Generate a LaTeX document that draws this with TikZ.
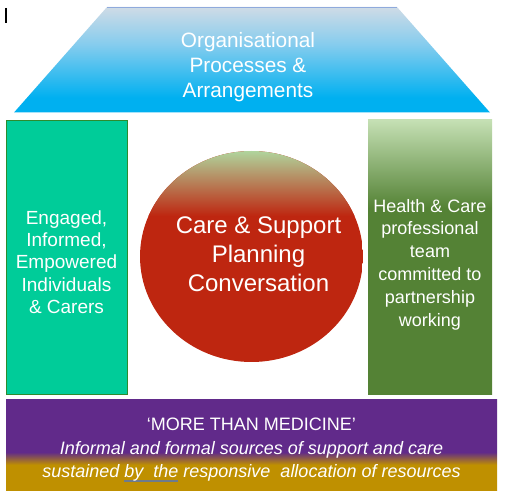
\documentclass[tikz,border=0pt]{standalone}
\usepackage{fontspec}
\setmainfont{Liberation Sans}
\usepackage{tikz}
\usetikzlibrary{shapes.geometric}

\definecolor{orgtop}{HTML}{CFDBE6}
\definecolor{orgmid}{HTML}{84CCEE}
\definecolor{orgblue}{HTML}{00B0F0}
\definecolor{orgedge}{HTML}{8FAADC}
\definecolor{carergreen}{HTML}{00CC99}
\definecolor{careredge}{HTML}{2E8B2E}
\definecolor{teamlight}{HTML}{C5E0B4}
\definecolor{teamdark}{HTML}{548235}
\definecolor{talkgreen}{HTML}{B0D49C}
\definecolor{talkmid}{HTML}{C07A5C}
\definecolor{talkred}{HTML}{BE2610}
\definecolor{morepurple}{HTML}{612A8A}
\definecolor{moregold}{HTML}{BF9000}
\definecolor{markgrey}{HTML}{6D7B8D}

\pgfdeclareverticalshading{orgshade}{100bp}{color(0bp)=(orgblue); color(32bp)=(orgblue); color(57bp)=(orgmid); color(75bp)=(orgtop); color(100bp)=(orgtop)}
\pgfdeclareverticalshading{teamshade}{100bp}{color(0bp)=(teamdark); color(59bp)=(teamdark); color(75bp)=(teamlight); color(100bp)=(teamlight)}
\pgfdeclareverticalshading{moreshade}{100bp}{color(0bp)=(moregold); color(39bp)=(moregold); color(46bp)=(morepurple); color(100bp)=(morepurple)}

% grey mark under a few words
\newcommand{\greymark}[1]{\leavevmode\setbox0\hbox{#1}\rlap{\textcolor{markgrey}{\rule[-4.5pt]{\wd0}{2pt}}}#1}

\begin{document}
\begin{tikzpicture}[x=1pt,y=-1pt,
  every node/.style={inner sep=0pt,text=white,align=center},
  sizeA/.style={font=\fontsize{20.8}{25}\selectfont},
  sizeB/.style={font=\fontsize{19}{22.3}\selectfont},
  sizeC/.style={font=\fontsize{24}{29}\selectfont}]
\useasboundingbox (0,0) rectangle (507,500);
\draw[line width=1.3pt] (6,8)--(6,23);

\shade[shading=orgshade] (107,7)--(397,7)--(490,112.5)--(14,112.5)--cycle;
\draw[orgedge,line width=1.5pt] (107,7.5)--(397,7.5);
\node[sizeA] (org) at (248,67) {Organisational\\Processes \&\\Arrangements};

\node[draw=careredge,line width=1pt,fill=carergreen,minimum width=121pt,minimum height=274pt] (carers) at (66.5,258) {};
\node[sizeB] (carerslabel) at ([yshift=-4pt]carers.center) {Engaged,\\Informed,\\Empowered\\Individuals\\ \& Carers};
\node[shade,shading=teamshade,minimum width=124pt,minimum height=275pt] (team) at (430,257.5) {};
\node[font=\fontsize{18}{22.8}\selectfont] (teamlabel) at ([yshift=-7pt]team.center)
  {Health \& Care\\professional\\team\\committed to\\partnership\\working};

\node[ellipse,minimum width=223pt,minimum height=211pt] (talk) at (251.5,256.5) {};
\begin{scope}
  \clip (talk.center) ellipse [x radius=111.5, y radius=105.5];
  \fill[talkred] (140,151) rectangle (363,362);
  \shade[top color=talkgreen,middle color=talkmid,bottom color=talkred] (140,151) rectangle (363,216);
\end{scope}
\node[sizeC] (talklabel) at (258.5,254) {Care \& Support\\Planning\\Conversation};

\node[shade,shading=moreshade,minimum width=491pt,minimum height=90pt] (more) at (251.5,445) {};
\node[font=\fontsize{18}{23.3}\selectfont] (morelabel) at ([yshift=-5pt]more.center)
  {`MORE THAN MEDICINE'\\ \itshape Informal and formal sources of support and care\\ \itshape sustained \greymark{by\ \ the} responsive\ \ allocation of resources};
\end{tikzpicture}
\end{document}
